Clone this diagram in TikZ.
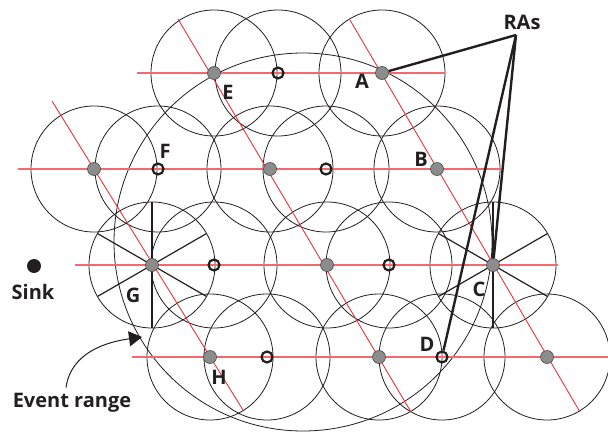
\documentclass[tikz,border=0pt]{standalone}
\usepackage{fontspec}
\setmainfont{Open Sans}
\usetikzlibrary{positioning, arrows.meta, calc}
\definecolor{linkred}{RGB}{232,52,60}
\definecolor{rowred}{RGB}{242,105,112}
\definecolor{relaygray}{RGB}{140,140,140}
\definecolor{ink}{RGB}{35,31,32}
\begin{document}
\begin{tikzpicture}[x=1pt, y=-1pt,
    cover/.style={draw=ink, line width=0.8pt},
    row line/.style={rowred, line width=1.5pt},
    diag line/.style={linkred, line width=0.9pt},
    spoke/.style={ink, line width=1.2pt},
    relay/.style={circle, draw=black!70, fill=relaygray, line width=0.6pt, minimum size=13pt, inner sep=0pt},
    sensor/.style={circle, draw=ink, line width=2.2pt, minimum size=11pt, inner sep=0pt},
    lbl/.style={font=\bfseries\fontsize{20}{22}\selectfont, text=ink, inner sep=0pt, anchor=base},
    ra link/.style={ink, line width=2.4pt},
    event arrow/.style={-{Triangle[length=13pt, width=15pt]}, ink, line width=1pt},
]
    \useasboundingbox (0,0) rectangle (608,434);

    % Sites
    \coordinate (pE) at (214,73);  \coordinate (n1) at (278,73);  \coordinate (pA) at (382,73);
    \coordinate (p21) at (94,169); \coordinate (nF) at (158,169); \coordinate (p22) at (270,169);
    \coordinate (n2) at (326,169); \coordinate (pB) at (437,169);
    \coordinate (pG) at (152,265); \coordinate (n3) at (214,265); \coordinate (p32) at (327,265);
    \coordinate (n4) at (389,265); \coordinate (pC) at (493,265);
    \coordinate (pH) at (210,357); \coordinate (n5) at (267,357); \coordinate (p42) at (379,357);
    \coordinate (nD) at (442,357); \coordinate (p43) at (547,357);

    % Ranges
    \draw[cover] (303,242) circle[radius=189pt];
    \foreach \p in {pE,n1,pA,p21,nF,p22,n2,pB,pG,n3,p32,n4,pC,pH,n5,p42,nD,p43}
        \draw[cover] (\p) circle[radius=63pt];

    % Red lines
    \draw[row line] (137,73) -- (445,73);
    \draw[row line] (18,169) -- (501,169);
    \draw[row line] (75,265) -- (558,265);
    \draw[row line] (132,357) -- (608,357);
    \draw[diag line] (178,19) -- (411,412);
    \draw[diag line] (350,20) -- (580,412);
    \draw[diag line] (52,101) -- (243,410);

    % Spokes
    \foreach \a in {30,90,...,330} {
        \draw[spoke] (pG) -- ++(\a:63);
        \draw[spoke] (pC) -- ++(\a:63);
    }

    % Nodes
    \foreach \p/\n in {pE/E,pA/A,p21/r21,p22/r22,pB/B,pG/G,p32/r32,pC/C,pH/H,p42/r42,p43/r43}
        \node[relay] (\n) at (\p) {};
    \foreach \p/\n in {n1/s1,nF/F,n2/s2,n3/s3,n4/s4,n5/s5,nD/D}
        \node[sensor] (\n) at (\p) {};

    % Labels
    \node[lbl] (lA) at (362,88) {A};
    \node[lbl] (lE) at (228,99) {E};
    \node[lbl] (lF) at (165,158) {F};
    \node[lbl] (lB) at (421,166) {B};
    \node[lbl] (lG) at (133,302) {G};
    \node[lbl] (lC) at (479,296) {C};
    \node[lbl] (lD) at (427,351) {D};
    \node[lbl] (lH) at (219,384) {H};

    % RAs
    \node[lbl] (ras) at (522,29) {RAs};
    \coordinate (apex) at (516,35);
    \draw[ra link] (apex) -- (A);
    \draw[ra link] (apex) -- (C);
    \draw[ra link] (apex) -- (D);

    % Sink
    \node[circle, fill=ink, minimum size=14pt, inner sep=0pt] (sink) at (34,266) {};
    \node[lbl] (lsink) at (33,299) {Sink};

    % Event range
    \node[lbl] (ev) at (72,407) {Event range};
    \coordinate (hit) at (142,337);
    \draw[event arrow] ([xshift=-6pt, yshift=5pt]ev.north) to[out=82, in=188] (hit);
\end{tikzpicture}
\end{document}
